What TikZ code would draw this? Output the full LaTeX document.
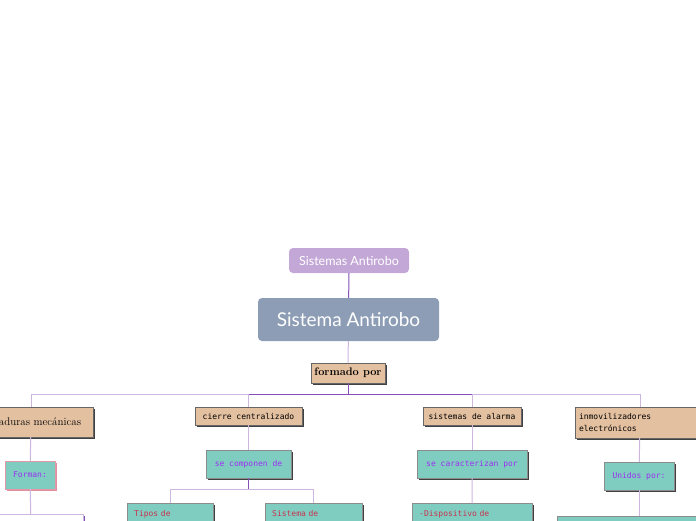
\documentclass[tikz,border=0pt]{standalone}
\usepackage{fontspec}
\usepackage{tikz}
\usetikzlibrary{positioning, shadows}
\newfontfamily\titlefont{Lato}
\newfontfamily\boxfont{DejaVu Sans Mono}
\definecolor{maplila}{HTML}{C3A7D6}
\definecolor{mapgrey}{HTML}{8C9DB5}
\definecolor{maptan}{HTML}{E3C0A0}
\definecolor{mapteal}{HTML}{7FCDC1}
\definecolor{mappurple}{HTML}{9B30F0}
\definecolor{mapred}{HTML}{C8324E}
\definecolor{linedark}{HTML}{8550B8}
\definecolor{linelite}{HTML}{CDB6E0}

\begin{document}
\begin{tikzpicture}[x=1pt, y=-1pt,
    title/.style={rounded corners=4pt, inner sep=0pt, text=white, font=\titlefont},
    tanbox/.style={draw=black!60, fill=maptan, inner sep=0pt,
                   drop shadow={shadow xshift=2pt, shadow yshift=-2pt, fill=black!75, opacity=1}},
    tealbox/.style={draw=black!45, fill=mapteal, inner sep=0pt, text=mappurple,
                    font=\boxfont\fontsize{8}{10}\selectfont,
                    drop shadow={shadow xshift=2pt, shadow yshift=-2pt, fill=black!75, opacity=1}},
    leafbox/.style={tealbox, anchor=north west, text=mapred, align=left,
                    inner xsep=7pt, inner ysep=7pt, text depth=30pt},
    lite/.style={linelite, line width=1pt},
    dark/.style={linedark, line width=1pt}
  ]
    \useasboundingbox (0,0) rectangle (696,520);
    \clip (0,0) rectangle (696,520);

    % top of the map
    \node[title, fill=maplila, minimum width=120pt, minimum height=25pt,
          font=\titlefont\fontsize{12.5}{14}\selectfont] (tema) at (349,260.5) {Sistemas Antirobo};
    \node[title, fill=mapgrey, minimum width=181pt, minimum height=43pt,
          font=\titlefont\fontsize{19}{21}\selectfont] (main) at (348.5,319.5) {Sistema Antirobo};
    \node[tanbox, minimum width=74pt, minimum height=20pt, font=\bfseries\fontsize{11}{13}\selectfont]
      (formado) at (348,373) {formado por};
    \coordinate (bus) at (348,394);

    % the four kinds
    \node[tanbox, minimum width=124pt, minimum height=30pt, font=\fontsize{11}{13}\selectfont]
      (mecan) at (31,422) {cerraduras mecánicas};
    \node[tanbox, minimum width=107pt, minimum height=18pt, font=\boxfont\fontsize{8}{10}\selectfont]
      (cierre) at (248.5,416) {cierre centralizado};
    \node[tanbox, minimum width=98pt, minimum height=18pt, font=\boxfont\fontsize{8}{10}\selectfont]
      (alarma) at (472,416) {sistemas de alarma};
    \node[tanbox, minimum width=130pt, minimum height=31pt, text width=122pt, align=left,
          font=\boxfont\fontsize{8}{12}\selectfont]
      (inmov) at (640,422.5) {inmovilizadores\\electrónicos};

    % linking words
    \node[tealbox, minimum width=50pt, minimum height=28pt, draw=mapred!50,
          drop shadow={shadow xshift=2pt, shadow yshift=-2pt, fill=mapred!55, opacity=1}]
      (forman) at (30,475) {Forman:};
    \node[tealbox, minimum width=85pt, minimum height=28pt] (componen) at (248.5,464) {se componen de};
    \node[tealbox, minimum width=110pt, minimum height=28pt] (caract) at (472,464) {se caracterizan por};
    \node[tealbox, minimum width=70pt, minimum height=28pt] (unidos) at (639,476) {Unidos por:};
    \coordinate (split) at (248.5,489);

    % cut off at the bottom
    \node[draw=linelite, fill=white, minimum width=104pt, minimum height=30pt, anchor=north,
          drop shadow={shadow xshift=2pt, shadow yshift=-2pt, fill=linedark, opacity=1}]
      (formhijo) at (31,514) {};
    \node[leafbox, text width=72pt] (tipos) at (127,503) {Tipos de};
    \node[leafbox, text width=83pt] (sistema) at (265,503) {Sistema de};
    \node[leafbox, text width=106pt] (dispo) at (412,503) {-Dispositivo de};
    \node[tealbox, minimum width=164pt, minimum height=30pt, anchor=north] (unihijo) at (639,516) {};

    % connectors
    \draw[dark] (tema) -- (main);
    \draw[lite] (main) -- (formado);
    \draw[dark] (formado) -- (bus);
    \draw[lite] (bus) -| (mecan.north);
    \draw[lite] (bus) -| (inmov.north);
    \draw[lite] (bus) -| (cierre.north);
    \draw[lite] (bus) -| (alarma.north);
    \draw[dark] (cierre.north |- bus) -- (alarma.north |- bus);
    \draw[lite] (mecan) -- (forman);
    \draw[lite] (cierre) -- (componen);
    \draw[lite] (alarma) -- (caract);
    \draw[lite] (inmov) -- (unidos);
    \draw[lite] (forman) -- (formhijo);
    \draw[dark] (componen) -- (split);
    \draw[lite] (split) -| (tipos.north);
    \draw[lite] (split) -| (sistema.north);
    \draw[lite] (caract) -- (dispo);
    \draw[lite] (unidos) -- (unihijo);
\end{tikzpicture}
\end{document}
